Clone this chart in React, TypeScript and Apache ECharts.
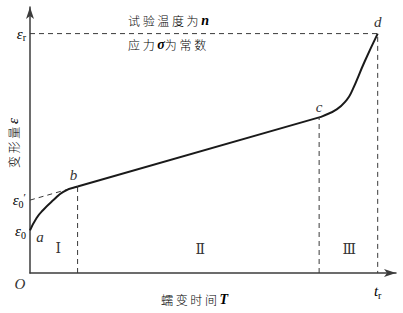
import { useEffect, useRef } from "react";
import * as echarts from "echarts";

// Axis extents (arbitrary units of time T and strain ε)
const timeRange = [0, 10];
const strainRange = [0, 10];

// Key points of the creep curve
const pointA = [0, 1.6];
const pointB = [1.3, 3.25];
const pointC = [7.9, 5.85];
const pointD = [9.5, 9.0];
const epsilon0Prime = 2.74; // intercept of the steady-state line extension

// Creep curve stages
const primaryCreep = [
  pointA,
  [0.18, 2.07],
  [0.36, 2.37],
  [0.64, 2.74],
  [0.91, 3.05],
  pointB,
];
const secondaryCreep = [pointB, pointC];
const tertiaryCreep = [
  pointC,
  [8.0, 5.9],
  [8.38, 6.15],
  [8.65, 6.5],
  [8.79, 6.82],
  [9.15, 7.97],
  pointD,
];

// Stage numerals and where they sit
const stageNames = ["Ⅰ", "Ⅱ", "Ⅲ"];
const stageCenters = [[0.77, 0.95], [4.65, 0.9], [8.72, 0.9]];

const SERIF = "Liberation Serif, DejaVu Serif, serif";
const CJK = "Noto Sans CJK SC, sans-serif";
const INK = "#1a1a1a";
const TEXT = "#333";
const CJK_TEXT = "#555";

const italic = { fontFamily: SERIF, fontStyle: "italic", fontSize: 15, fill: TEXT, color: TEXT, lineHeight: 18 };
const subRich = {
  e: { fontFamily: SERIF, fontStyle: "italic", fontSize: 15, color: TEXT, lineHeight: 18 },
  s: { fontFamily: SERIF, fontSize: 10, color: TEXT, verticalAlign: "bottom", lineHeight: 10 },
  p: { fontFamily: SERIF, fontSize: 11, color: TEXT, verticalAlign: "top", lineHeight: 10 },
  c: { fontFamily: CJK, fontSize: 12, fontWeight: 300, color: CJK_TEXT, lineHeight: 18 },
  i: { fontFamily: SERIF, fontStyle: "italic", fontSize: 15, color: TEXT, lineHeight: 18 },
  ib: { fontFamily: SERIF, fontStyle: "italic", fontWeight: "bold", fontSize: 14, color: TEXT, lineHeight: 18 },
};

function dashed(data: number[][]) {
  return {
    type: "line",
    data,
    showSymbol: false,
    silent: true,
    lineStyle: { color: "#3a3a3a", width: 1, type: [5, 4] },
  };
}

function curve(data: number[][], smooth: boolean) {
  return {
    type: "line",
    data,
    smooth,
    showSymbol: false,
    silent: true,
    lineStyle: { color: INK, width: 2 },
    z: 3,
  };
}

export default function App() {
  const ref = useRef<HTMLDivElement>(null);

  useEffect(() => {
    if (!ref.current) return;
    const chart = echarts.init(ref.current, null, { renderer: "svg" });

    const axisLine = {
      show: true,
      symbol: ["none", "arrow"],
      symbolSize: [6, 12],
      lineStyle: { color: "#3c3c3c", width: 1.5 },
    };

    chart.setOption({
      animation: false,
      grid: { left: 30, right: 7, top: 7, bottom: 40 },
      xAxis: {
        type: "value",
        min: timeRange[0],
        max: timeRange[1],
        axisLine,
        axisTick: { show: false },
        axisLabel: { show: false },
        splitLine: { show: false },
      },
      yAxis: {
        type: "value",
        min: strainRange[0],
        max: strainRange[1],
        axisLine,
        axisTick: { show: false },
        axisLabel: { show: false },
        splitLine: { show: false },
      },
      series: [
        dashed([[0, pointD[1]], pointD, [pointD[0], 0]]),
        dashed([[pointB[0], 0], pointB]),
        dashed([[pointC[0], 0], pointC]),
        dashed([[0, epsilon0Prime], pointB]),
        curve(primaryCreep, true),
        curve(secondaryCreep, false),
        curve(tertiaryCreep, true),
      ],
    });

    const px = (p: number[]) => chart.convertToPixel({ gridIndex: 0 }, p) as number[];
    const origin = px([0, 0]);
    const a = px(pointA);
    const b = px(pointB);
    const c = px(pointC);
    const d = px(pointD);
    const e0p = px([0, epsilon0Prime]);

    const label = (x: number, y: number, text: string, extra: any = {}) => ({
      type: "text",
      x,
      y,
      style: { text, align: "center", verticalAlign: "middle", ...italic, ...extra },
    });
    const richLabel = (x: number, y: number, text: string, align = "center") => ({
      type: "text",
      x,
      y,
      style: { text, align, verticalAlign: "middle", rich: subRich },
    });

    const graphic: any[] = [
      label(a[0] + 10, a[1] + 7, "a"),
      label(b[0] - 4, b[1] - 12, "b"),
      label(c[0], c[1] - 10, "c"),
      label(d[0], d[1] - 12, "d"),
      label(origin[0] - 10, origin[1] + 11, "O"),
      richLabel(origin[0] - 4, d[1], "{e|ε}{s|r}", "right"),
      richLabel(origin[0] - 4, e0p[1], "{e|ε}{s|0}{p|′}", "right"),
      richLabel(origin[0] - 4, a[1] + 1, "{e|ε}{s|0}", "right"),
      richLabel(d[0], origin[1] + 18, "{i|t}{s|r}"),
      richLabel(128, d[1] - 13, "{c|试 验 温 度 为 }{ib|n}", "left"),
      richLabel(128, d[1] + 11, "{c|应 力 }{ib|σ}{c|为 常 数}", "left"),
      richLabel(161, origin[1] + 26, "{c|蠕 变 时 间 }{ib|T}", "left"),
      {
        type: "text",
        x: 13,
        y: 143,
        rotation: Math.PI / 2,
        style: {
          text: "{c|变 形 量 }{i|ε}",
          align: "center",
          verticalAlign: "middle",
          rich: subRich,
        },
      },
    ];

    stageNames.forEach((name, i) => {
      const p = px(stageCenters[i]);
      graphic.push({
        type: "text",
        x: p[0],
        y: p[1],
        style: {
          text: name,
          align: "center",
          verticalAlign: "middle",
          fontFamily: "DejaVu Serif, serif",
          fontSize: 14,
          fill: TEXT,
        },
      });
    });

    chart.setOption({ graphic });

    return () => chart.dispose();
  }, []);

  return (
    <div
      ref={ref}
      style={{ position: "absolute", left: 0, top: 0, width: 403, height: 313, background: "#fff" }}
    />
  );
}
